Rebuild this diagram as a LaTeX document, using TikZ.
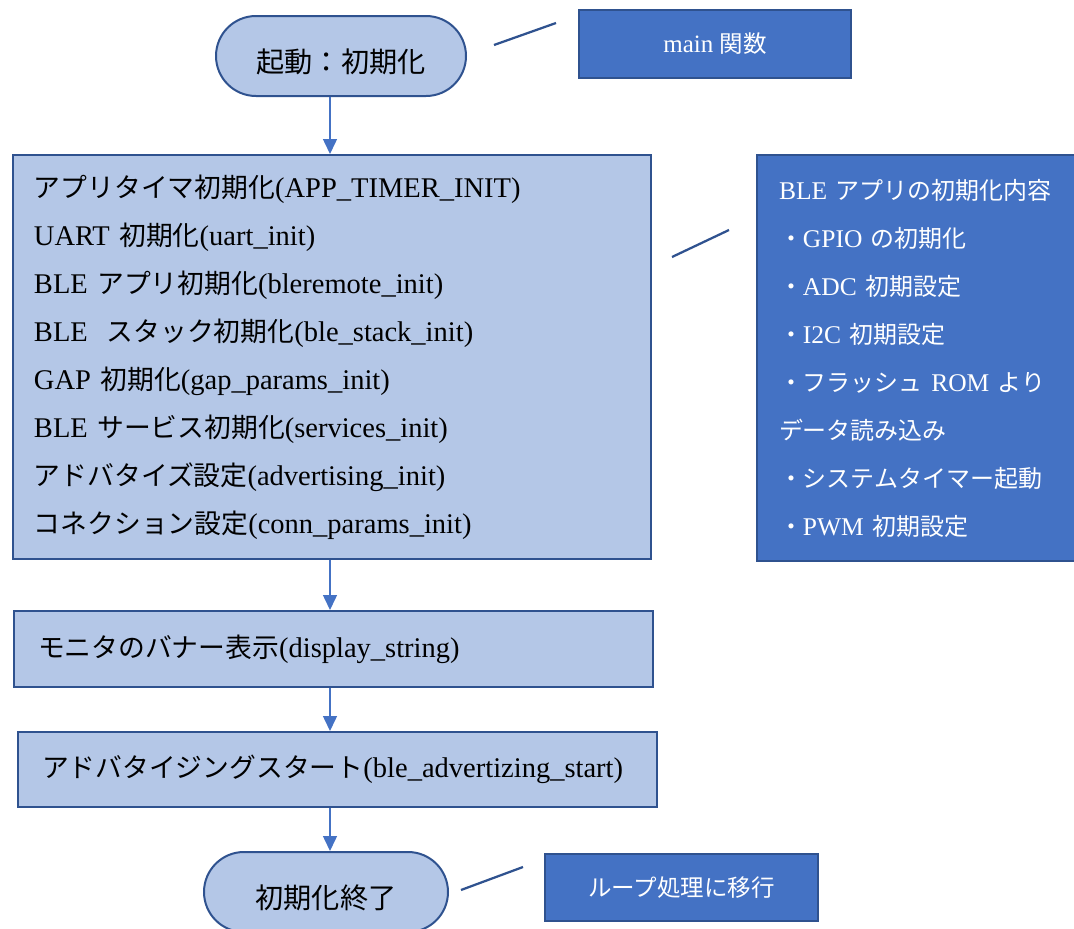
\documentclass[tikz,border=0pt]{standalone}
\usepackage{fontspec}
\setmainfont{Liberation Serif}
\newfontfamily\jp[Scale=0.94]{Noto Sans CJK JP}
\usetikzlibrary{arrows.meta}
\definecolor{lightfill}{HTML}{B4C7E7}
\definecolor{edgeblue}{HTML}{2F528F}
\definecolor{darkfill}{HTML}{4472C4}
\newcommand{\termtext}[1]{\raisebox{-16pt}[0pt][0pt]{\jp #1}}
\begin{document}
\begin{tikzpicture}[x=1pt,y=-1pt,
  term/.style={draw=edgeblue, line width=2pt, fill=lightfill, rounded corners=40pt,
    minimum width=250pt, minimum height=80pt, inner sep=0pt,
    font=\fontsize{30}{36}\selectfont},
  procbox/.style={draw=edgeblue, line width=2pt, fill=lightfill, anchor=north west,
    inner ysep=0pt, align=left, font=\fontsize{28.5}{48}\selectfont},
  note/.style={draw=edgeblue, line width=2pt, fill=darkfill, text=white, inner sep=0pt,
    font=\fontsize{25}{30}\selectfont},
  flow/.style={draw=darkfill, line width=1.5pt, -{Triangle[length=15pt,width=14pt]}},
  leader/.style={draw=edgeblue, line width=2.25pt}]
\useasboundingbox (0,0) rectangle (1074,929);
\clip (0,0) rectangle (1074,929);

% terminals and boxes
\node[term] (start) at (341,56) {\termtext{起動：初期化}};
\node[note, minimum width=272pt, minimum height=68pt] (mainfn) at (715,44) {main {\jp 関数}};

\node[procbox, minimum width=638pt, minimum height=404pt, text width=596pt, inner xsep=21pt]
  (init) at (12,154) {%
  {\jp アプリタイマ初期化}(APP\_TIMER\_INIT)\\
  UART {\jp 初期化}(uart\_init)\\
  BLE {\jp アプリ初期化}(bleremote\_init)\\
  BLE\ \ {\jp スタック初期化}(ble\_stack\_init)\\
  GAP {\jp 初期化}(gap\_params\_init)\\
  BLE {\jp サービス初期化}(services\_init)\\
  {\jp アドバタイズ設定}(advertising\_init)\\
  {\jp コネクション設定}(conn\_params\_init)};

\node[note, anchor=north west, minimum width=340pt, minimum height=406pt, text width=296pt,
  inner xsep=22pt, align=left, font=\fontsize{25.5}{48}\selectfont]
  (blenote) at (756,154) {%
  BLE {\jp アプリの初期化内容}\\
  {\jp ・}GPIO {\jp の初期化}\\
  {\jp ・}ADC {\jp 初期設定}\\
  {\jp ・}I2C {\jp 初期設定}\\
  {\jp ・フラッシュ} ROM {\jp より}\\
  {\jp データ読み込み}\\
  {\jp ・システムタイマー起動}\\
  {\jp ・}PWM {\jp 初期設定}};

\node[procbox, minimum width=639pt, minimum height=76pt, text width=591pt, inner xsep=24pt]
  (banner) at (13,610) {{\jp モニタのバナー表示}(display\_string)};

\node[procbox, minimum width=639pt, minimum height=75pt, text width=591pt, inner xsep=24pt]
  (advstart) at (17,731) {{\jp アドバタイジングスタート}(ble\_advertizing\_start)};

\node[term, minimum width=244pt] (finish) at (326,892) {\termtext{初期化終了}};
\node[note, minimum width=273pt, minimum height=67pt] (loopnote) at (681.5,887.5) {\jp ループ処理に移行};

% flow arrows
\coordinate (ax) at (330,0);
\draw[flow] (start.south -| ax) -- (init.north -| ax);
\draw[flow] (init.south -| ax) -- (banner.north -| ax);
\draw[flow] (banner.south -| ax) -- (advstart.north -| ax);
\draw[flow] (advstart.south -| ax) -- (finish.north -| ax);

% callout leader lines
\coordinate (l1a) at (494,45);
\coordinate (l1b) at (556,23);
\draw[leader] (l1a) -- (l1b);
\coordinate (l2a) at (672,257);
\coordinate (l2b) at (729,230);
\draw[leader] (l2a) -- (l2b);
\coordinate (l3a) at (461,890);
\coordinate (l3b) at (523,867);
\draw[leader] (l3a) -- (l3b);
\end{tikzpicture}
\end{document}
